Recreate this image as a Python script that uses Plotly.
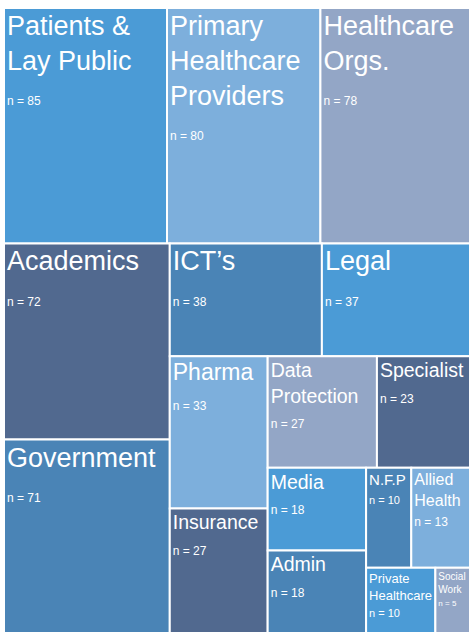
import plotly.graph_objects as go

# ---- data ----
categories = [
    "Patients & Lay Public", "Primary Healthcare Providers", "Healthcare Orgs.",
    "Academics", "Government", "ICT's", "Legal", "Pharma", "Insurance",
    "Data Protection", "Specialist", "Media", "Admin", "N.F.P",
    "Allied Health", "Private Healthcare", "Social Work",
]
counts = [85, 80, 78, 72, 71, 38, 37, 33, 27, 27, 23, 18, 18, 10, 13, 10, 5]

# display versions of the labels (line breaks as in the reference)
display_labels = [
    "Patients &<br>Lay Public", "Primary<br>Healthcare<br>Providers", "Healthcare<br>Orgs.",
    "Academics", "Government", "ICT’s", "Legal", "Pharma", "Insurance",
    "Data<br>Protection", "Specialist", "Media", "Admin", "N.F.P",
    "Allied<br>Health", "Private<br>Healthcare", "Social<br>Work",
]

# ---- styles ----
BLUE = "#4b9bd6"
LIGHT = "#7dafdc"
GREY = "#93a6c6"
DARK = "#51698f"
MID = "#4a84b6"
colors = [BLUE, LIGHT, GREY, DARK, MID, MID, BLUE, LIGHT, DARK,
          GREY, DARK, BLUE, MID, MID, LIGHT, BLUE, GREY]
label_sizes = [27, 27, 27, 27, 27, 27, 27, 23, 19.5, 19.5, 19.5, 19.5, 19.5, 15, 16, 13, 10]
n_sizes = [12, 12, 12, 12, 12, 12, 12, 12, 12, 12, 12, 12, 12, 11, 12, 11, 8]

texts = [
    f"{lab}<br><span style='font-size:{ns}px'>n = {v}</span>"
    for lab, v, ns in zip(display_labels, counts, n_sizes)
]

fig = go.Figure(
    go.Treemap(
        labels=categories,
        parents=[""] * len(categories),
        values=counts,
        text=texts,
        textinfo="text",
        textposition="top left",
        sort=False,
        branchvalues="remainder",
        marker=dict(
            colors=colors,
            line=dict(color="white", width=2),
            pad=dict(t=0, l=0, r=0, b=0),
        ),
        textfont=dict(family="Liberation Sans, Arial, sans-serif",
                      size=label_sizes, color="white"),
        tiling=dict(packing="squarify", squarifyratio=1.027, pad=0),
        pathbar=dict(visible=False),
        hovertemplate="%{label}: %{value}<extra></extra>",
    )
)

fig.update_layout(
    width=470,
    height=637,
    margin=dict(l=4, r=0, t=8, b=4),
    paper_bgcolor="white",
    plot_bgcolor="white",
    showlegend=False,
)

fig.write_html(
    "out.html",
    config={"displayModeBar": False},
    post_script="document.body.style.margin='0';document.body.style.overflow='hidden';",
)
